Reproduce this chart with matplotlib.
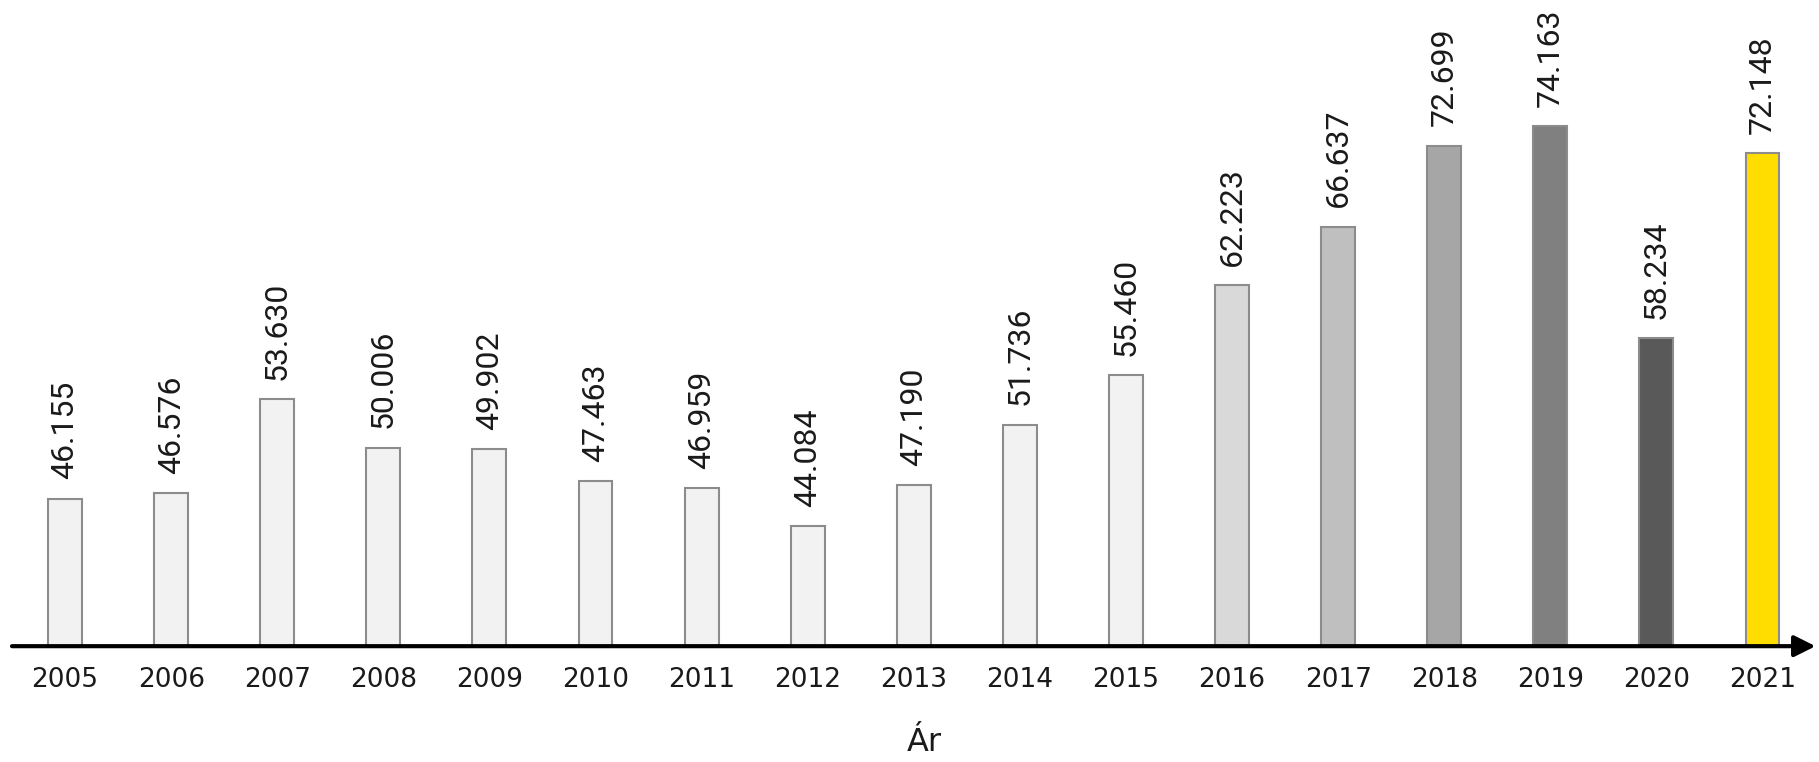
import matplotlib
matplotlib.use("Agg")
import matplotlib.pyplot as plt

years = ["2005", "2006", "2007", "2008", "2009", "2010", "2011", "2012",
         "2013", "2014", "2015", "2016", "2017", "2018", "2019", "2020", "2021"]
values = [46155, 46576, 53630, 50006, 49902, 47463, 46959, 44084,
          47190, 51736, 55460, 62223, 66637, 72699, 74163, 58234, 72148]
labels = ["46.155", "46.576", "53.630", "50.006", "49.902", "47.463", "46.959", "44.084",
          "47.190", "51.736", "55.460", "62.223", "66.637", "72.699", "74.163", "58.234", "72.148"]
colors = ["#F2F2F2"] * 11 + ["#D9D9D9", "#BFBFBF", "#A6A6A6", "#808080", "#595959", "#FFDD00"]

fig = plt.figure(figsize=(18.19, 7.62), dpi=100)
ax = fig.add_axes([0.0066, 0.152, 0.9915, 0.848])

x = range(len(years))
bars = ax.bar(x, values, width=0.32, color=colors, edgecolor="#8C8C8C", linewidth=1.5, zorder=2)

for rect, lab in zip(bars, labels):
    ax.annotate(lab, (rect.get_x() + rect.get_width() / 2, rect.get_height()),
                xytext=(0, 14), textcoords="offset points", rotation=90,
                ha="center", va="bottom", fontsize=23, family="Roboto",
                color="#1A1A1A")

ax.set_xlim(-0.5, 16.5)
ax.set_ylim(35070, 83675)

for s in ax.spines.values():
    s.set_visible(False)
ax.set_yticks([])
ax.set_xticks(list(x))
ax.set_xticklabels(years, fontsize=19, family="DejaVu Sans", color="#1A1A1A")
ax.tick_params(axis="x", length=0, pad=15)
ax.set_xlabel("Ár", fontsize=23, family="DejaVu Sans", color="#1A1A1A")
ax.xaxis.set_label_coords(0.506, -0.125)

# horizontal axis with arrow head
ax.annotate("", xy=(1.0, 0), xytext=(0.0, 0), xycoords="axes fraction",
            arrowprops=dict(arrowstyle="-|>", lw=3, color="black", mutation_scale=32,
                            shrinkA=0, shrinkB=0), zorder=3)

fig.savefig("out.png", dpi=100)
